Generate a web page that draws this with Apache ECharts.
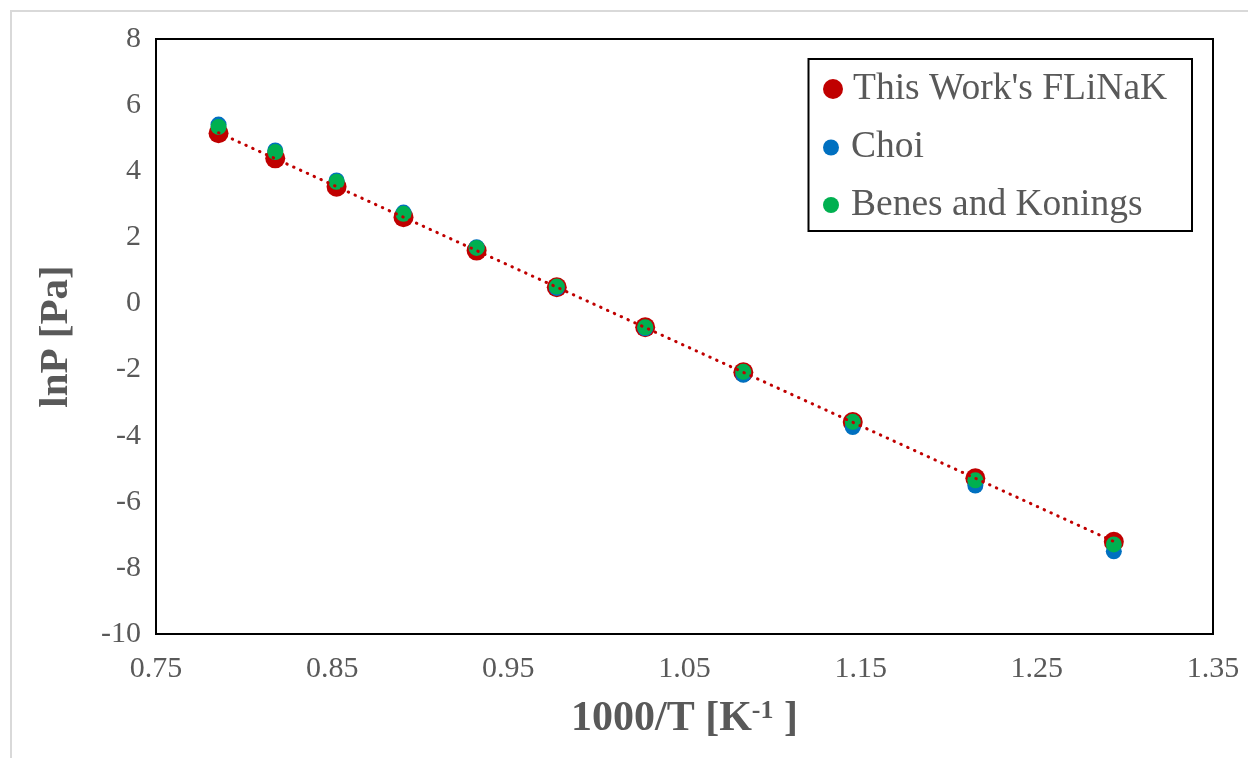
<!DOCTYPE html>
<html>
<head>
<meta charset="utf-8">
<script src="https://cdn.jsdelivr.net/npm/echarts@6/dist/echarts.min.js"></script>
<style>
  html, body { margin: 0; padding: 0; background: #fff; }
  #chart { width: 1248px; height: 758px; }
</style>
</head>
<body>
<div id="chart"></div>
<script>
// Reciprocal temperature 1000/T [1/K]
const invT = [0.7855, 0.8177, 0.8525, 0.8905, 0.9320, 0.9775, 1.0277, 1.0834, 1.1455, 1.2151, 1.2937];
// ln of vapour pressure [Pa]
const thisWork = [5.15, 4.39, 3.53, 2.61, 1.60, 0.49, -0.72, -2.08, -3.59, -5.29, -7.21];
const choi     = [5.41, 4.63, 3.72, 2.75, 1.70, 0.47, -0.75, -2.16, -3.74, -5.51, -7.50];
const benes    = [5.34, 4.58, 3.68, 2.71, 1.68, 0.51, -0.72, -2.07, -3.58, -5.35, -7.29];

const seriesNames = ["This Work's FLiNaK", "Choi", "Benes and Konings"];
const xTickLabels = ['0.75', '0.85', '0.95', '1.05', '1.15', '1.25', '1.35'];
const yTickLabels = ['-10', '-8', '-6', '-4', '-2', '0', '2', '4', '6', '8'];

const FONT = "'Times New Roman', 'Liberation Serif', serif";
const TEXT_GREY = '#595959';

const pairs = (xs, ys) => xs.map((x, i) => [x, ys[i]]);

// Least-squares linear trend through this work's points
function linearFit(xs, ys) {
  const n = xs.length;
  let sx = 0, sy = 0, sxx = 0, sxy = 0;
  for (let i = 0; i < n; i++) {
    sx += xs[i]; sy += ys[i]; sxx += xs[i] * xs[i]; sxy += xs[i] * ys[i];
  }
  const slope = (n * sxy - sx * sy) / (n * sxx - sx * sx);
  const icpt = (sy - slope * sx) / n;
  return x => icpt + slope * x;
}
const fit = linearFit(invT, thisWork);
const trendX = [invT[0], invT[invT.length - 1]];
const trend = trendX.map(x => [x, fit(x)]);

const chart = echarts.init(document.getElementById('chart'), null, { renderer: 'canvas' });

function legendFor(name, size, top) {
  return {
    data: [name],
    left: 823,
    top: top,
    padding: 0,
    icon: 'circle',
    itemWidth: 30,
    itemHeight: size,
    selectedMode: false,
    textStyle: { fontFamily: FONT, fontSize: 37.5, color: TEXT_GREY }
  };
}

chart.setOption({
  animation: false,
  backgroundColor: '#fff',
  grid: {
    left: 156, top: 39, right: 35, bottom: 124,
    show: true, borderColor: '#000', borderWidth: 2, backgroundColor: 'transparent'
  },
  graphic: [
    {
      type: 'rect', z: -10,
      shape: { x: 11, y: 11, width: 1300, height: 800 },
      style: { fill: 'none', stroke: '#d9d9d9', lineWidth: 2 }
    },
    {
      type: 'rect', z: 0,
      shape: { x: 808.5, y: 59, width: 383.5, height: 172 },
      style: { fill: 'none', stroke: '#000', lineWidth: 2 }
    }
  ],
  legend: [
    legendFor(seriesNames[0], 20, 70),
    legendFor(seriesNames[1], 16, 128.5),
    legendFor(seriesNames[2], 16, 186)
  ],
  xAxis: {
    type: 'value',
    min: 0.75, max: 1.35, interval: 0.05,
    axisLine: { show: false },
    axisTick: { show: false },
    splitLine: { show: false },
    axisLabel: {
      fontFamily: FONT, fontSize: 30, color: TEXT_GREY, margin: 20,
      formatter: v => {
        const s = v.toFixed(2);
        return xTickLabels.includes(s) ? s : '';
      }
    },
    name: '1000/T [K{sup|-1} ]',
    nameLocation: 'middle',
    nameGap: 64,
    nameTextStyle: {
      fontFamily: FONT, fontSize: 42, fontWeight: 'bold', color: TEXT_GREY,
      rich: {
        sup: { fontFamily: FONT, fontSize: 26, fontWeight: 'bold', color: TEXT_GREY, padding: [0, 0, 17, 0] }
      }
    }
  },
  yAxis: {
    type: 'value',
    min: -10, max: 8, interval: 2,
    axisLine: { show: false },
    axisTick: { show: false },
    splitLine: { show: false },
    axisLabel: {
      fontFamily: FONT, fontSize: 30, color: TEXT_GREY, margin: 15,
      formatter: v => {
        const s = String(Math.round(v));
        return yTickLabels.includes(s) ? s : '';
      }
    },
    name: 'lnP [Pa]',
    nameLocation: 'middle',
    nameRotate: 90,
    nameGap: 79,
    nameTextStyle: { fontFamily: FONT, fontSize: 41, fontWeight: 'bold', color: TEXT_GREY }
  },
  series: [
    {
      name: seriesNames[0], type: 'scatter', z: 2,
      symbol: 'circle', symbolSize: 20,
      itemStyle: { color: '#C00000', opacity: 1 },
      data: pairs(invT, thisWork)
    },
    {
      name: seriesNames[1], type: 'scatter', z: 3,
      symbol: 'circle', symbolSize: 16,
      itemStyle: { color: '#0070C0', opacity: 1 },
      data: pairs(invT, choi)
    },
    {
      name: seriesNames[2], type: 'scatter', z: 4,
      symbol: 'circle', symbolSize: 16,
      itemStyle: { color: '#00B050', opacity: 1 },
      data: pairs(invT, benes)
    },
    {
      name: "Linear (This Work's FLiNaK)", type: 'line', z: 5,
      showSymbol: false, silent: true,
      lineStyle: { color: '#C00000', width: 3, type: [0.5, 7], cap: 'round' },
      data: trend
    }
  ]
});
</script>
</body>
</html>
